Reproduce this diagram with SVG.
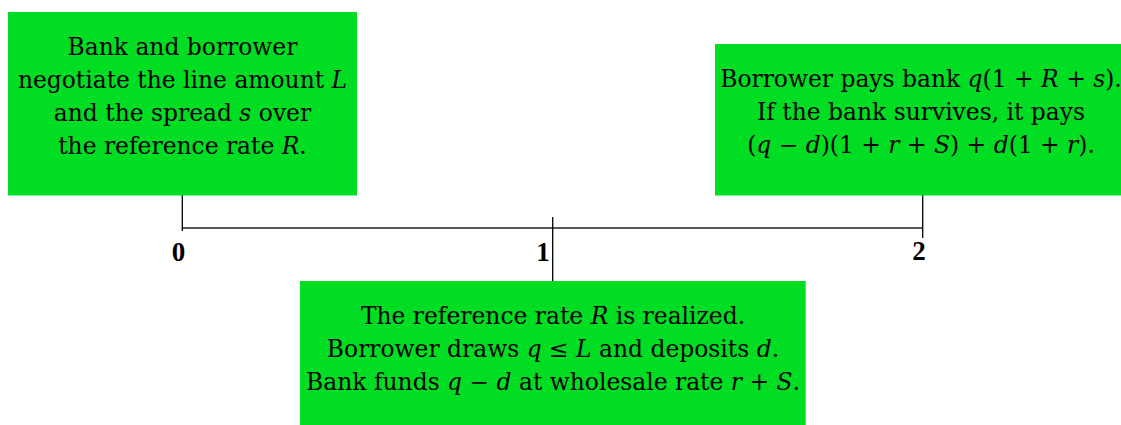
<svg xmlns="http://www.w3.org/2000/svg" width="1121" height="425" viewBox="0 0 1121 425">
<style>
.box{fill:#00dd22;stroke:none}
.t{font-family:"DejaVu Serif","Liberation Serif",serif;font-size:23.4px;fill:#000;text-anchor:middle}
.i{font-style:italic}
.lbl{font-family:"Liberation Serif",serif;font-size:27px;font-weight:bold;fill:#000;text-anchor:middle}
.ax{stroke:#222;stroke-width:1.6;fill:none}
.tk{stroke:#000;stroke-width:1.3;fill:none}
</style>
<rect width="1121" height="425" fill="#fff"/>
<g id="connectors">
<line class="ax" x1="182.3" y1="228" x2="922.7" y2="228"/>
<line class="tk" x1="182.3" y1="195" x2="182.3" y2="231"/>
<line class="tk" x1="552.7" y1="217" x2="552.7" y2="281"/>
<line class="tk" x1="922.7" y1="195" x2="922.7" y2="238"/>
</g>
<g id="labels">
<text class="lbl" x="178.5" y="261">0</text>
<text class="lbl" x="543" y="261">1</text>
<text class="lbl" x="919" y="260">2</text>
</g>
<g id="node-t0">
<rect class="box" x="8" y="12" width="349" height="183.5"/>
<text class="t" x="182.5" y="55">Bank and borrower</text>
<text class="t" x="182.5" y="88">negotiate the line amount <tspan class="i">L</tspan></text>
<text class="t" x="182.5" y="121">and the spread <tspan class="i">s</tspan> over</text>
<text class="t" x="182.5" y="154">the reference rate <tspan class="i">R</tspan>.</text>
</g>
<g id="node-t2">
<rect class="box" x="715" y="44" width="412" height="151.5"/>
<text class="t" x="921" y="87">Borrower pays bank <tspan class="i">q</tspan>(1 + <tspan class="i">R</tspan> + <tspan class="i">s</tspan>).</text>
<text class="t" x="921" y="120">If the bank survives, it pays</text>
<text class="t" x="921" y="153">(<tspan class="i">q</tspan> − <tspan class="i">d</tspan>)(1 + <tspan class="i">r</tspan> + <tspan class="i">S</tspan>) + <tspan class="i">d</tspan>(1 + <tspan class="i">r</tspan>).</text>
</g>
<g id="node-t1">
<rect class="box" x="300" y="281" width="505.7" height="144"/>
<text class="t" x="553" y="323.5">The reference rate <tspan class="i">R</tspan> is realized.</text>
<text class="t" x="553" y="357">Borrower draws <tspan class="i">q</tspan> ≤ <tspan class="i">L</tspan> and deposits <tspan class="i">d</tspan>.</text>
<text class="t" x="553" y="390">Bank funds <tspan class="i">q</tspan> − <tspan class="i">d</tspan> at wholesale rate <tspan class="i">r</tspan> + <tspan class="i">S</tspan>.</text>
</g>
</svg>
